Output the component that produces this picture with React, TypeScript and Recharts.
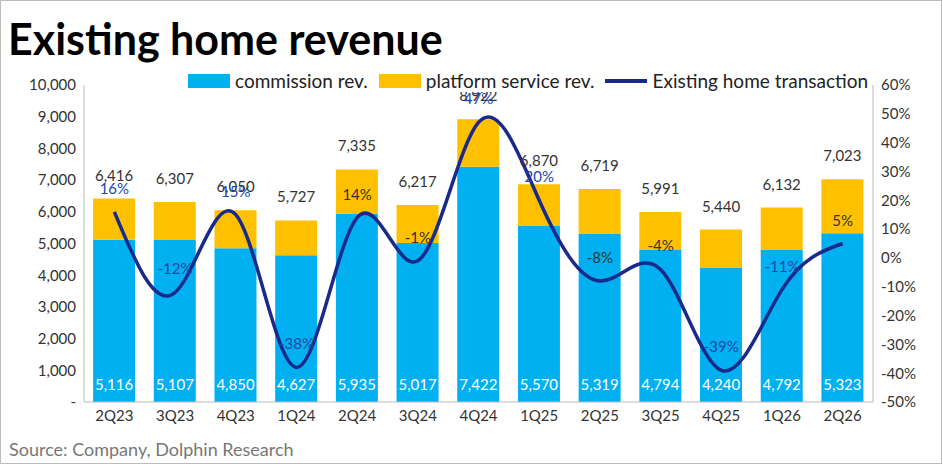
import { ComposedChart, Bar, Line, XAxis, YAxis, LabelList } from "recharts";

const quarters = ["2Q23", "3Q23", "4Q23", "1Q24", "2Q24", "3Q24", "4Q24", "1Q25", "2Q25", "3Q25", "4Q25", "1Q26", "2Q26"];
const commission = [5116, 5107, 4850, 4627, 5935, 5017, 7422, 5570, 5319, 4794, 4240, 4792, 5323];
const totals = [6416, 6307, 6050, 5727, 7335, 6217, 8922, 6870, 6719, 5991, 5440, 6132, 7023];
const growth = [16, -12, 15, -38, 14, -1, 47, 20, -8, -4, -39, -11, 5];
const growthColors = ["#2346a8", "#2346a8", "#2346a8", "#2346a8", "#333", "#333", "#2346a8", "#2346a8", "#333", "#333", "#2346a8", "#2346a8", "#333"];

const BLUE = "#00B0F0";
const GOLD = "#FFC000";
const NAVY = "#1A2A8A";
const FONT = "Lato, 'Open Sans', sans-serif";

const data = quarters.map((q, i) => ({
  q,
  commission: commission[i],
  platform: totals[i] - commission[i],
  total: totals[i],
  growth: growth[i],
}));

const fmt = (v: number) => v.toLocaleString("en-US");

function CommissionLabel(props: any) {
  const { x, y, width, height, value } = props;
  return (
    <text x={x + width / 2} y={y + height - 12} textAnchor="middle" fill="#fff" fontSize={15} fontFamily={FONT}>
      {fmt(value)}
    </text>
  );
}

function TotalLabel(props: any) {
  const { x, y, width, value } = props;
  return (
    <text x={x + width / 2} y={y - 18} textAnchor="middle" fill="#333" fontSize={15} fontFamily={FONT}>
      {fmt(value)}
    </text>
  );
}

function GrowthLabel(props: any) {
  const { x, y, value, index } = props;
  return (
    <text x={x} y={y - 18} textAnchor="middle" fill={growthColors[index]} fontSize={15} fontFamily={FONT}>
      {value}%
    </text>
  );
}

export default function App() {
  return (
    <div style={{ position: "relative", width: 940, height: 462, border: "1px solid #bbb", background: "#fff", fontFamily: FONT, overflow: "hidden" }}>
      <style>{`body{margin:0}`}</style>
      <div style={{ position: "absolute", left: 7, top: 12, fontSize: 43, fontWeight: 700, color: "#000" }}>
        Existing home revenue
      </div>
      <ComposedChart width={940} height={462} data={data} margin={{ top: 84, right: 18, bottom: 31, left: 20 }} barCategoryGap="15%">
        <XAxis dataKey="q" height={30} tickLine={false} axisLine={{ stroke: "#bbb" }} tick={{ fill: "#333", fontSize: 15, fontFamily: FONT }} />
        <YAxis
          yAxisId="l"
          width={63}
          domain={[0, 10000]}
          ticks={[0, 1000, 2000, 3000, 4000, 5000, 6000, 7000, 8000, 9000, 10000]}
          tickFormatter={(v: number) => (v === 0 ? "-" : fmt(v))}
          tickLine={false}
          axisLine={{ stroke: "#bbb" }}
          tick={{ fill: "#333", fontSize: 15, fontFamily: FONT }}
        />
        <YAxis
          yAxisId="r"
          orientation="right"
          width={50}
          domain={[-50, 60]}
          ticks={[-50, -40, -30, -20, -10, 0, 10, 20, 30, 40, 50, 60]}
          tickFormatter={(v: number) => `${v}%`}
          tickLine={false}
          axisLine={{ stroke: "#bbb" }}
          tick={{ fill: "#333", fontSize: 15, fontFamily: FONT }}
        />
        <Bar yAxisId="l" dataKey="commission" stackId="a" fill={BLUE} isAnimationActive={false}>
          <LabelList dataKey="commission" content={<CommissionLabel />} />
        </Bar>
        <Bar yAxisId="l" dataKey="platform" stackId="a" fill={GOLD} isAnimationActive={false}>
          <LabelList dataKey="total" content={<TotalLabel />} />
        </Bar>
        <Line yAxisId="r" type="natural" dataKey="growth" stroke={NAVY} strokeWidth={3.5} dot={false} isAnimationActive={false}>
          <LabelList dataKey="growth" content={<GrowthLabel />} />
        </Line>
      </ComposedChart>
      <div style={{ position: "absolute", left: 187, top: 68, display: "flex", alignItems: "center", gap: 5, fontSize: 19, color: "#222", background: "#fff", paddingRight: 4 }}>
        <span style={{ width: 42, height: 14, background: BLUE, display: "inline-block" }} />
        <span>commission rev.</span>
        <span style={{ width: 42, height: 14, background: GOLD, display: "inline-block", marginLeft: 6 }} />
        <span>platform service rev.</span>
        <span style={{ width: 42, height: 4, background: NAVY, display: "inline-block", marginLeft: 6 }} />
        <span>Existing home transaction</span>
      </div>
      <div style={{ position: "absolute", left: 8, top: 437, fontSize: 18, color: "#777" }}>
        Source: Company, Dolphin Research
      </div>
    </div>
  );
}
